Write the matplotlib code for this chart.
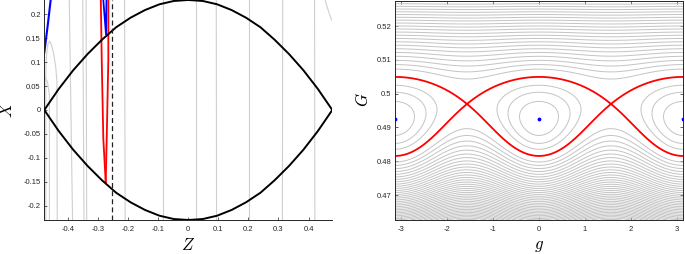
import numpy as np
import matplotlib
matplotlib.use('Agg')
import matplotlib.pyplot as plt

plt.rcParams['mathtext.fontset'] = 'cm'
plt.rcParams['font.family'] = ['Liberation Sans', 'DejaVu Sans']
plt.rcParams['contour.negative_linestyle'] = 'solid'

# ---- left panel: (Z, X) plane ----
lens_z = [-0.479, -0.431, -0.383, -0.335, -0.287, -0.240, -0.192, -0.144, -0.096, -0.048, 0.0,
          0.048, 0.096, 0.144, 0.192, 0.240, 0.287, 0.335, 0.383, 0.431, 0.479]
lens_x = [0.0, 0.044, 0.083, 0.117, 0.147, 0.173, 0.193, 0.209, 0.221, 0.228, 0.230,
          0.228, 0.221, 0.209, 0.193, 0.173, 0.147, 0.117, 0.083, 0.044, 0.0]

# grey level curves, (Z points, X points)
grey_curves = [
    ([-0.436, -0.437, -0.441, -0.448, -0.455, -0.461, -0.467, -0.472, -0.474, -0.474],
     [-0.23, 0.06, 0.09, 0.118, 0.136, 0.144, 0.138, 0.112, 0.08, -0.23]),
    ([-0.462, -0.462, -0.468, -0.479], [-0.23, 0.03, 0.058, 0.072]),
    ([-0.385, -0.396], [-0.23, 0.23]),
    ([-0.347, -0.351], [-0.23, 0.23]),
    ([-0.338, -0.340], [-0.23, 0.23]),
    ([-0.210, -0.212], [-0.23, 0.23]),
    ([-0.083, -0.083], [-0.23, 0.23]),
    ([0.024, 0.024], [-0.23, 0.23]),
    ([0.094, 0.093], [-0.23, 0.23]),
    ([0.203, 0.203], [-0.23, 0.23]),
    ([0.313, 0.314], [-0.23, 0.23]),
    ([0.421, 0.420], [-0.23, 0.23]),
    ([0.455, 0.462, 0.470, 0.477], [0.23, 0.215, 0.200, 0.188]),
]

red_left_z = [-0.291, -0.288, -0.2827, -0.2747]
red_left_x = [0.23, 0.106, -0.06, -0.151]
red_right_z = [-0.266, -0.266, -0.2714, -0.2747]
red_right_x = [0.23, 0.106, -0.06, -0.151]

blue_v_z = [-0.2827, -0.2737, -0.2722]
blue_v_x = [0.23, 0.158, 0.23]
blue_edge_z = [-0.479, -0.468, -0.4576]
blue_edge_x = [0.120, 0.175, 0.231]

dash_z = -0.2527

# ---- right panel: (g, G) plane ----
G_mid = 0.4947      # between centre and saddle
beta = 10.0         # asymmetry of the unperturbed part
E_amp = 7.2e-5      # cos(2g) amplitude
s_width = 0.008
dH = 1.7e-5         # contour step
first_loop = 0.8    # innermost loop above the centre, in steps
sep_gap = 0.7       # no grey level this close to the separatrix
centre_g = [-np.pi, 0.0, np.pi]
centre_G = [0.4925, 0.4925, 0.4925]

fig = plt.figure(figsize=(6.85, 2.54), dpi=100)
ax1 = fig.add_axes([44.3 / 685, 34 / 254, 288 / 685, 220 / 254])
ax2 = fig.add_axes([395 / 685, 34 / 254, 288 / 685, 219.5 / 254])

grey = '#cfcfcf'
for zz, xx in grey_curves:
    ax1.plot(zz, xx, color=grey, lw=0.8, zorder=1)
ax1.plot(red_left_z, red_left_x, color='red', lw=1.3, zorder=3)
ax1.plot(red_right_z, red_right_x, color='red', lw=1.3, zorder=3)
ax1.plot(blue_v_z, blue_v_x, color='blue', lw=1.3, zorder=2)
ax1.plot(blue_edge_z, blue_edge_x, color='blue', lw=1.5, zorder=2)
ax1.plot(lens_z, lens_x, color='black', lw=1.4, zorder=4)
ax1.plot(lens_z, -np.array(lens_x), color='black', lw=1.4, zorder=4)
ax1.plot([dash_z, dash_z], [-0.23, 0.23], color='#222222', lw=0.9, ls=(0, (4, 2.5)), zorder=5)

ax1.set_xlim(-0.479, 0.479)
ax1.set_ylim(-0.23, 0.23)
ax1.set_xticks(np.arange(-4, 5) / 10)
ax1.set_xticklabels(['-0.4', '-0.3', '-0.2', '-0.1', '0', '0.1', '0.2', '0.3', '0.4'])
ax1.set_yticks(np.arange(-4, 5) * 0.05)
ax1.set_yticklabels(['-0.2', '-0.15', '-0.1', '-0.05', '0', '0.05', '0.1', '0.15', '0.2'])
ax1.spines['top'].set_visible(False)
ax1.spines['right'].set_visible(False)

g = np.linspace(-np.pi, np.pi, 721)
G = np.linspace(0.4626, 0.5276, 500)
gg, GG = np.meshgrid(g, G)
x = GG - G_mid
F = x**2 / 2 - beta * x**3 / 3
eps = E_amp / (1 + np.exp(x / s_width))
H = F - eps * np.cos(2 * gg)

# separatrix level: saddle at g = pi/2; island centre at g = 0
col_s = np.argmin(np.abs(g - np.pi / 2))
col_c = np.argmin(np.abs(g))
win = (G > 0.485) & (G < 0.505)
H_s = H[win, col_s].min()
H_c = H[win, col_c].min()

levels = H_c + dH * (np.arange(0, 80) + first_loop)
levels = levels[(levels < H.max()) & (np.abs(levels - H_s) > sep_gap * dH)]
ax2.contour(gg, GG, H, levels=levels, colors='#c4c4c4', linewidths=0.7, linestyles='solid')
ax2.contour(gg, GG, H, levels=[H_s], colors='red', linewidths=1.3, linestyles='solid')
ax2.plot(centre_g, centre_G, '.', color='blue', ms=3.5, zorder=5)

ax2.set_xlim(-np.pi, np.pi)
ax2.set_ylim(0.4626, 0.5276)
ax2.set_xticks([-3, -2, -1, 0, 1, 2, 3])
ax2.set_xticklabels(['-3', '-2', '-1', '0', '1', '2', '3'])
ax2.set_yticks([0.47, 0.48, 0.49, 0.50, 0.51, 0.52])
ax2.set_yticklabels(['0.47', '0.48', '0.49', '0.5', '0.51', '0.52'])

for ax in (ax1, ax2):
    for sp in ax.spines.values():
        sp.set_linewidth(0.7)
        sp.set_color('#262626')
    ax.tick_params(direction='in', length=2.2, width=0.5, labelsize=5.5,
                   colors='#262626', pad=2.5)
    ax.tick_params(axis='x', pad=4.5)
ax2.tick_params(top=True, right=True)

fig.text(188 / 685, 1 - 245 / 254, r'$Z$', fontsize=12, ha='center', va='center')
fig.text(6.5 / 685, 1 - 110 / 254, r'$X$', fontsize=12, ha='center', va='center', rotation=90)
fig.text(539 / 685, 1 - 246 / 254, r'$g$', fontsize=12, ha='center', va='center')
fig.text(363 / 685, 1 - 100 / 254, r'$G$', fontsize=12, ha='center', va='center', rotation=90)

fig.savefig('out.png', dpi=100)
